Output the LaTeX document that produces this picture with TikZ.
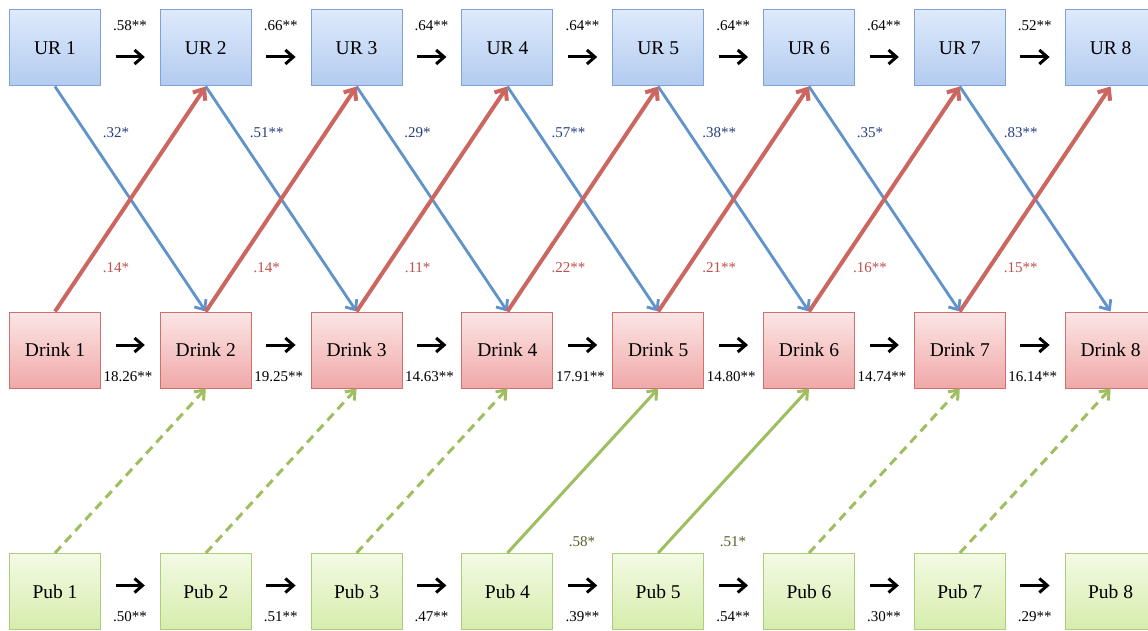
\documentclass[tikz,border=0pt]{standalone}
\usepackage{fontspec}
\setmainfont{Liberation Serif}
\usetikzlibrary{arrows.meta}
\definecolor{urtop}{RGB}{222,234,251}
\definecolor{urbot}{RGB}{178,203,240}
\definecolor{urline}{RGB}{125,162,214}
\definecolor{drtop}{RGB}{252,230,230}
\definecolor{drbot}{RGB}{240,168,168}
\definecolor{drline}{RGB}{206,112,108}
\definecolor{pbtop}{RGB}{243,250,228}
\definecolor{pbbot}{RGB}{214,237,172}
\definecolor{pbline}{RGB}{172,206,122}
\definecolor{bluec}{RGB}{96,146,203}
\definecolor{redc}{RGB}{204,102,96}
\definecolor{greenc}{RGB}{158,190,96}
\definecolor{bluetxt}{RGB}{40,62,125}
\definecolor{redtxt}{RGB}{192,80,77}
\definecolor{greentxt}{RGB}{79,98,40}
\tikzset{
  box/.style={rectangle, minimum width=91pt, minimum height=76pt, inner sep=0pt,
    line width=1pt, font=\fontsize{19.5}{20}\selectfont},
  urbox/.style={box, draw=urline, top color=urtop, bottom color=urbot},
  drbox/.style={box, draw=drline, top color=drtop, bottom color=drbot},
  pbbox/.style={box, draw=pbline, top color=pbtop, bottom color=pbbot},
  lab/.style={inner sep=0pt, font=\fontsize{15}{16}\selectfont},
  harr/.style={line width=3pt, black, shorten <=14.5pt, shorten >=15pt,
    -{Straight Barb[length=8pt,width=14pt]}},
  bluearr/.style={line width=2.8pt, bluec, -{Straight Barb[length=8pt,width=14pt]}},
  redarr/.style={line width=4pt, redc, -{Straight Barb[length=9pt,width=15pt]}},
  greenarr/.style={line width=3pt, greenc, -{Straight Barb[length=8pt,width=13pt]}},
  greendash/.style={greenarr, dash pattern=on 9pt off 6pt}
}
\begin{document}
\begin{tikzpicture}[x=1pt,y=-1pt]
\useasboundingbox (0,0) rectangle (1148,631);
\clip (0,0) rectangle (1148,631);
\fill[white] (0,0) rectangle (1148,631);
% nodes
\foreach \k in {1,...,8} {
  \pgfmathsetmacro\xx{55+150.8*(\k-1)}
  \node[urbox] (u\k) at (\xx,48) {UR \k};
  \node[drbox] (d\k) at (\xx,350) {Drink \k};
  \node[pbbox] (p\k) at (\xx,591.5) {Pub \k};
}
% blue and red cross-lagged paths
\foreach \k/\n/\bl/\rl in {1/2/.32*/.14*, 2/3/.51**/.14*, 3/4/.29*/.11*, 4/5/.57**/.22**,
  5/6/.38**/.21**, 6/7/.35*/.16**, 7/8/.83**/.15**} {
  \draw[bluearr] (u\k.south) -- (d\n.north);
  \pgfmathsetmacro\xx{55+150.8*(\k-1)+61}
  \node[lab, text=bluetxt] (bl\k) at (\xx,133) {\bl};
  \node[lab, text=redtxt] (rl\k) at (\xx,268) {\rl};
}
\foreach \k/\n in {1/2,2/3,3/4,4/5,5/6,6/7,7/8} {
  \draw[redarr] (d\k.north) -- (u\n.south);
}
% green paths
\foreach \k/\n in {1/2,2/3,3/4,6/7,7/8} {
  \draw[greendash] (p\k.north) -- (d\n.south);
}
\draw[greenarr] (p4.north) -- (d5.south);
\draw[greenarr] (p5.north) -- (d6.south);
\node[lab, text=greentxt] (gl4) at (582,542) {.58*};
\node[lab, text=greentxt] (gl5) at (733,542) {.51*};
% autoregressive paths
\foreach \k/\n/\ul/\dl/\pl in {1/2/.58**/18.26**/.50**, 2/3/.66**/19.25**/.51**,
  3/4/.64**/14.63**/.47**, 4/5/.64**/17.91**/.39**, 5/6/.64**/14.80**/.54**,
  6/7/.64**/14.74**/.30**, 7/8/.52**/16.14**/.29**} {
  \draw[harr] ([yshift=-9pt]u\k.east) -- ([yshift=-9pt]u\n.west);
  \draw[harr] ([yshift=5pt]d\k.east) -- ([yshift=5pt]d\n.west);
  \draw[harr] ([yshift=6pt]p\k.east) -- ([yshift=6pt]p\n.west);
  \pgfmathsetmacro\xx{55+150.8*(\k-1)+75}
  \node[lab] (ul\k) at (\xx,26) {\ul};
  \node[lab] (dl\k) at (\xx-2,377) {\dl};
  \node[lab] (pl\k) at (\xx,617) {\pl};
}
\end{tikzpicture}
\end{document}
